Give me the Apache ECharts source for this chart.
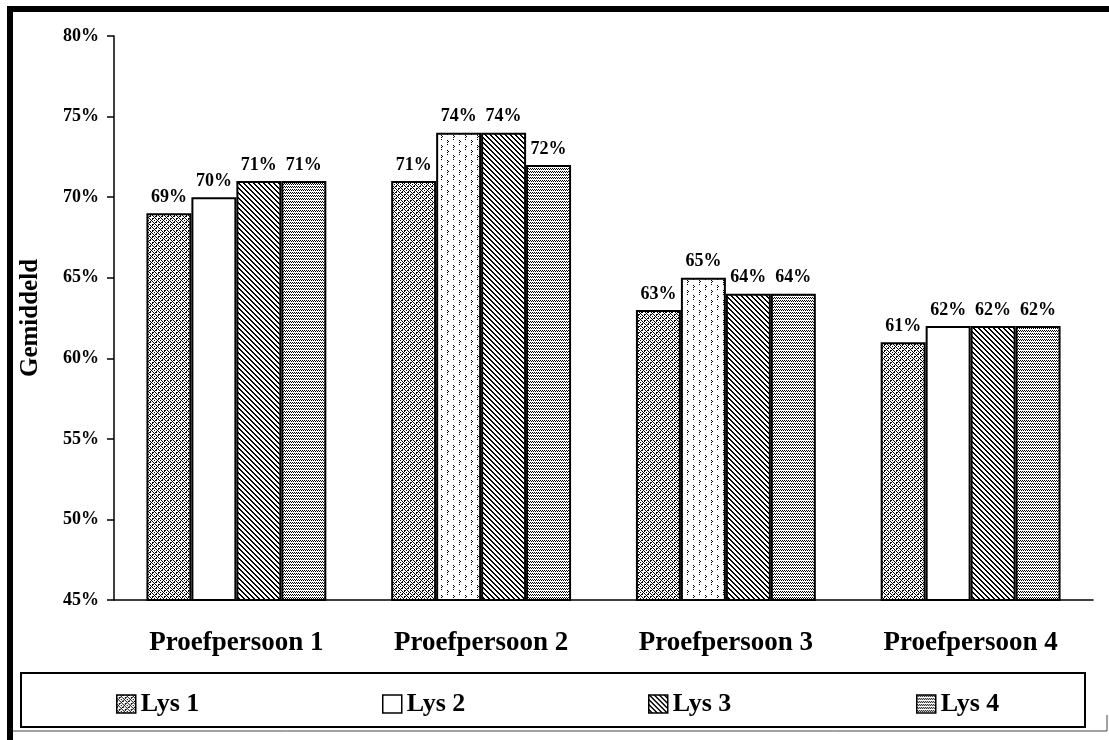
<!DOCTYPE html>
<html>
<head>
<meta charset="utf-8">
<script src="https://cdn.jsdelivr.net/npm/echarts@6/dist/echarts.min.js"></script>
<style>
html,body{margin:0;padding:0;background:#fff;}
#chart{width:1109px;height:740px;}
</style>
</head>
<body>
<div id="chart"></div>
<script>
const categories = ['Proefpersoon 1', 'Proefpersoon 2', 'Proefpersoon 3', 'Proefpersoon 4'];
const seriesNames = ['Lys 1', 'Lys 2', 'Lys 3', 'Lys 4'];
const lys1 = [69, 71, 63, 61];
const lys2 = [70, 74, 65, 62];
const lys3 = [71, 74, 64, 62];
const lys4 = [71, 72, 64, 62];
const yTicks = [45, 50, 55, 60, 65, 70, 75, 80];

const FONT = '"Liberation Serif", "Times New Roman", serif';

function tile(w, h, pixels) {
  const c = document.createElement('canvas');
  c.width = w; c.height = h;
  const g = c.getContext('2d');
  g.fillStyle = '#fff'; g.fillRect(0, 0, w, h);
  g.fillStyle = '#000';
  pixels.forEach(p => g.fillRect(p[0], p[1], 1, 1));
  return { image: c, repeat: 'repeat' };
}
// Lys 1: dotted cross-hatch
const p1 = [];
for (let i = 0; i < 6; i++) { if (i % 2 === 0) p1.push([i, i]); p1.push([i, 5 - i]); p1.push([(i + 3) % 6, i]); }
const pat1 = tile(6, 6, p1);
// Lys 2 dotted variant (sparse vertical dots)
const pat2d = tile(12, 10, [[3,0],[3,2],[3,4],[4,1],[9,5],[9,7],[9,9],[10,6]]);
// Lys 3: backslash diagonal lines
const p3 = [];
for (let i = 0; i < 5; i++) { p3.push([i, i]); p3.push([(i + 1) % 5, i]); }
const pat3 = tile(5, 5, p3);
// Lys 4: fine horizontal dotted lines
const pat4 = tile(4, 3, [[0,0],[2,0],[1,1],[3,1]]);

const border = { borderColor: '#000', borderWidth: 2 };
const labelCfg = {
  show: true, position: 'top', distance: 7,
  formatter: p => p.value + '%',
  color: '#000', fontFamily: FONT, fontWeight: 'bold', fontSize: 18
};

function mkSeries(name, values, color, dataMap) {
  return {
    name: name, type: 'bar',
    data: dataMap ? values.map(dataMap) : values,
    itemStyle: Object.assign({ color: color }, border),
    label: labelCfg,
    barGap: '0%', barCategoryGap: '26.5%'
  };
}

const legendLefts = [111, 377, 643, 911];
const legends = seriesNames.map((n, i) => ({
  left: legendLefts[i], top: 686,
  itemWidth: 19, itemHeight: 18, itemGap: 10,
  icon: 'rect',
  textStyle: { fontFamily: FONT, fontWeight: 'bold', fontSize: 26, color: '#000' },
  itemStyle: { borderColor: '#000', borderWidth: 1.5 },
  data: [n]
}));

const chart = echarts.init(document.getElementById('chart'));
chart.setOption({
  backgroundColor: '#fff',
  animation: false,
  grid: { left: 114, right: 16, top: 36, bottom: 140 },
  legend: legends,
  xAxis: {
    type: 'category', data: categories,
    axisLine: { lineStyle: { color: '#000', width: 1.5 } },
    axisTick: { length: 10, lineStyle: { color: '#000', width: 1.5 } },
    axisLabel: { margin: 30, color: '#000', fontFamily: FONT, fontWeight: 'bold', fontSize: 27 }
  },
  yAxis: {
    type: 'value', min: yTicks[0], max: yTicks[yTicks.length - 1], interval: 5,
    name: 'Gemiddeld', nameLocation: 'middle', nameGap: 71, nameRotate: 90,
    nameTextStyle: { fontFamily: FONT, fontWeight: 'bold', fontSize: 25, color: '#000' },
    axisLine: { show: true, lineStyle: { color: '#000', width: 1.5 } },
    axisTick: { show: true, length: 7, lineStyle: { color: '#000', width: 1.5 } },
    splitLine: { show: false },
    axisLabel: { margin: 15, formatter: v => v + '%', color: '#000', fontFamily: FONT, fontWeight: 'bold', fontSize: 18 }
  },
  graphic: [
    { type: 'rect', shape: { x: 7, y: 6, width: 6, height: 734 }, style: { fill: '#000' }, silent: true },
    { type: 'rect', shape: { x: 7, y: 6, width: 1102, height: 6 }, style: { fill: '#000' }, silent: true },
    { type: 'line', shape: { x1: 13, y1: 731, x2: 1107, y2: 731 }, style: { stroke: '#444', lineWidth: 1 }, silent: true },
    { type: 'line', shape: { x1: 1107, y1: 715, x2: 1107, y2: 731 }, style: { stroke: '#444', lineWidth: 1 }, silent: true },
    { type: 'rect', shape: { x: 21, y: 673, width: 1064, height: 54 }, style: { fill: 'none', stroke: '#000', lineWidth: 2 }, silent: true, z: 10 }
  ],
  series: [
    mkSeries(seriesNames[0], lys1, pat1),
    mkSeries(seriesNames[1], lys2, '#fff', (v, i) => (i === 1 || i === 2) ? { value: v, itemStyle: { color: pat2d } } : v),
    mkSeries(seriesNames[2], lys3, pat3),
    mkSeries(seriesNames[3], lys4, pat4)
  ]
});
</script>
</body>
</html>
